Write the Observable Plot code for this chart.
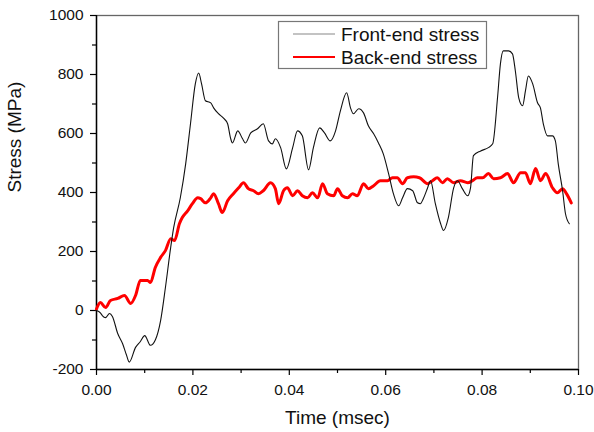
<!DOCTYPE html>
<html>
<head>
<meta charset="utf-8">
<script src="https://cdn.jsdelivr.net/npm/d3@7"></script>
<script src="https://cdn.jsdelivr.net/npm/@observablehq/plot@0.6"></script>
<style>
  html, body { margin: 0; padding: 0; background: #fff; }
  #wrap { position: relative; width: 594px; height: 432px; }
  #legend { position: absolute; left: 278px; top: 21px; }
</style>
</head>
<body>
<div id="wrap"><div id="chart"></div><div id="legend"></div></div>
<script>
// ---- Data (time in msec, stress in MPa) ----
const frontTime = [0, 0.0008, 0.0012, 0.0019, 0.0027, 0.0033, 0.0044, 0.0054, 0.0062, 0.0068, 0.0081, 0.0091, 0.0100, 0.0112, 0.0122, 0.0133, 0.0143, 0.0154, 0.0160, 0.0174, 0.0185, 0.0195, 0.0205, 0.0212, 0.0218, 0.0226, 0.0237, 0.0243, 0.0253, 0.0263, 0.0272, 0.0278, 0.0282, 0.0293, 0.0303, 0.0309, 0.0320, 0.0334, 0.0346, 0.0357, 0.0365, 0.0371, 0.0382, 0.0394, 0.0407, 0.0417, 0.0427, 0.0440, 0.0450, 0.0463, 0.0473, 0.0485, 0.0496, 0.0506, 0.0519, 0.0527, 0.0533, 0.0544, 0.0554, 0.0564, 0.0575, 0.0585, 0.0595, 0.0606, 0.0616, 0.0627, 0.0635, 0.0645, 0.0656, 0.0666, 0.0672, 0.0678, 0.0687, 0.0693, 0.0703, 0.0714, 0.0720, 0.0730, 0.0741, 0.0749, 0.0759, 0.0770, 0.0776, 0.0782, 0.0797, 0.0813, 0.0822, 0.0832, 0.0838, 0.0844, 0.0855, 0.0863, 0.0869, 0.0876, 0.0884, 0.0890, 0.0896, 0.0905, 0.0915, 0.0921, 0.0927, 0.0936, 0.0946, 0.0952, 0.0958, 0.0967, 0.0973, 0.0981];
const frontStress = [0, -8, -17, -24, -10, -20, -78, -112, -150, -175, -125, -105, -85, -118, -100, -34, 78, 215, 280, 383, 497, 633, 768, 805, 768, 711, 704, 687, 667, 653, 633, 585, 568, 609, 582, 568, 602, 616, 633, 575, 565, 582, 552, 480, 552, 609, 592, 477, 552, 619, 602, 575, 609, 677, 738, 687, 667, 684, 670, 626, 599, 568, 531, 464, 396, 355, 382, 413, 406, 365, 362, 379, 416, 440, 362, 294, 271, 315, 416, 440, 413, 389, 416, 525, 541, 552, 565, 721, 836, 880, 880, 870, 812, 721, 694, 745, 795, 768, 704, 687, 633, 592, 592, 575, 497, 406, 328, 294];

const backTime = [0, 0.0008, 0.0019, 0.0029, 0.0044, 0.0058, 0.0071, 0.0081, 0.0091, 0.0106, 0.0112, 0.0122, 0.0133, 0.0143, 0.0154, 0.0162, 0.0172, 0.0178, 0.0189, 0.0199, 0.0210, 0.0216, 0.0226, 0.0237, 0.0243, 0.0253, 0.0261, 0.0272, 0.0284, 0.0295, 0.0305, 0.0315, 0.0326, 0.0336, 0.0346, 0.0361, 0.0371, 0.0378, 0.0388, 0.0396, 0.0407, 0.0417, 0.0427, 0.0438, 0.0448, 0.0459, 0.0469, 0.0479, 0.0492, 0.0500, 0.0510, 0.0521, 0.0531, 0.0541, 0.0554, 0.0564, 0.0575, 0.0589, 0.0604, 0.0614, 0.0624, 0.0635, 0.0645, 0.0658, 0.0670, 0.0687, 0.0697, 0.0707, 0.0718, 0.0728, 0.0741, 0.0755, 0.0770, 0.0780, 0.0790, 0.0801, 0.0813, 0.0824, 0.0838, 0.0853, 0.0865, 0.0880, 0.0890, 0.0900, 0.0911, 0.0921, 0.0932, 0.0946, 0.0956, 0.0967, 0.0975, 0.0985];
const backStress = [5, 27, 10, 34, 41, 51, 24, 51, 102, 102, 95, 146, 180, 203, 243, 237, 294, 315, 338, 362, 382, 379, 365, 382, 396, 362, 332, 372, 396, 416, 433, 413, 406, 396, 406, 433, 413, 362, 406, 416, 389, 406, 389, 382, 399, 382, 430, 396, 389, 413, 389, 382, 396, 389, 430, 413, 423, 440, 440, 450, 450, 430, 450, 453, 450, 430, 440, 450, 433, 447, 433, 440, 433, 440, 450, 450, 464, 447, 450, 464, 433, 467, 467, 430, 481, 440, 464, 416, 399, 413, 396, 365];

const seriesNames = ["Front-end stress", "Back-end stress"];
const seriesColors = ["#111111", "#ff0000"];
const seriesWidths = [1.1, 3];

const xMajor = [0, 0.02, 0.04, 0.06, 0.08, 0.10];
const xMinor = [0.01, 0.03, 0.05, 0.07, 0.09];
const yMajor = [-200, 0, 200, 400, 600, 800, 1000];
const yMinor = [-100, 100, 300, 500, 700, 900];

const xTitle = "Time (msec)";
const yTitle = "Stress (MPa)";

// ---- Build tables ----
const front = frontTime.map((t, i) => ({t, v: frontStress[i]}));
const back = backTime.map((t, i) => ({t, v: backStress[i]}));

const FONT = "'Liberation Sans', Arial, Helvetica, sans-serif";

const chart = Plot.plot({
  width: 594,
  height: 432,
  marginLeft: 96,
  marginRight: 16,
  marginTop: 15,
  marginBottom: 63,
  style: {fontFamily: FONT, fontSize: "15.5px", color: "#111", background: "#fff", overflow: "visible"},
  x: {domain: [0, 0.1]},
  y: {domain: [-200, 1000]},
  marks: [
    Plot.frame({stroke: "#666", strokeWidth: 1.3}),
    Plot.axisX(xMinor, {tickSize: 4, tickFormat: () => "", label: null, stroke: "#000", strokeWidth: 1.2}),
    Plot.axisX(xMajor, {tickSize: 6, tickPadding: 8, tickFormat: d3.format(".2f"), label: null, stroke: "#000", strokeWidth: 1.2, fill: "#111"}),
    Plot.axisY(yMinor, {tickSize: 4, tickFormat: () => "", label: null, stroke: "#000", strokeWidth: 1.2}),
    Plot.axisY(yMajor, {tickSize: 6, tickPadding: 7, tickFormat: d => String(d), label: null, stroke: "#000", strokeWidth: 1.2, fill: "#111"}),
    Plot.ruleX([0], {stroke: "#000", strokeWidth: 1.4}),
    Plot.ruleY([-200], {stroke: "#000", strokeWidth: 1.4}),
    Plot.line(back, {x: "t", y: "v", stroke: seriesColors[1], strokeWidth: seriesWidths[1], strokeLinejoin: "round", curve: "monotone-x"}),
    Plot.line(front, {x: "t", y: "v", stroke: seriesColors[0], strokeWidth: seriesWidths[0], strokeLinejoin: "round", curve: "monotone-x"}),
    Plot.text([xTitle], {frameAnchor: "bottom", dy: 54, lineAnchor: "bottom", fontSize: 19, fill: "#111"}),
    Plot.text([yTitle], {frameAnchor: "left", rotate: -90, dx: -89, lineAnchor: "top", fontSize: 19, fill: "#111"})
  ]
});
document.getElementById("chart").appendChild(chart);

// ---- Legend (inside plot area, top right) ----
const lw = 209, lh = 48;
const leg = d3.select("#legend").append("svg").attr("width", lw).attr("height", lh)
  .style("font-family", FONT).style("overflow", "visible");
leg.append("rect").attr("x", 0.5).attr("y", 0.5).attr("width", lw - 1).attr("height", lh - 1)
  .attr("fill", "#fff").attr("stroke", "#777").attr("stroke-width", 1.2);
const legendLineColors = ["#888888", "#ff0000"];
const legendLineWidths = [1.2, 2.2];
seriesNames.forEach((name, i) => {
  const cy = 13 + i * 23;
  leg.append("line").attr("x1", 15).attr("x2", 57).attr("y1", cy).attr("y2", cy)
    .attr("stroke", legendLineColors[i]).attr("stroke-width", legendLineWidths[i]);
  leg.append("text").attr("x", 63).attr("y", cy).attr("dy", "0.35em")
    .attr("font-size", 19).attr("fill", "#111").text(name);
});
</script>
</body>
</html>
